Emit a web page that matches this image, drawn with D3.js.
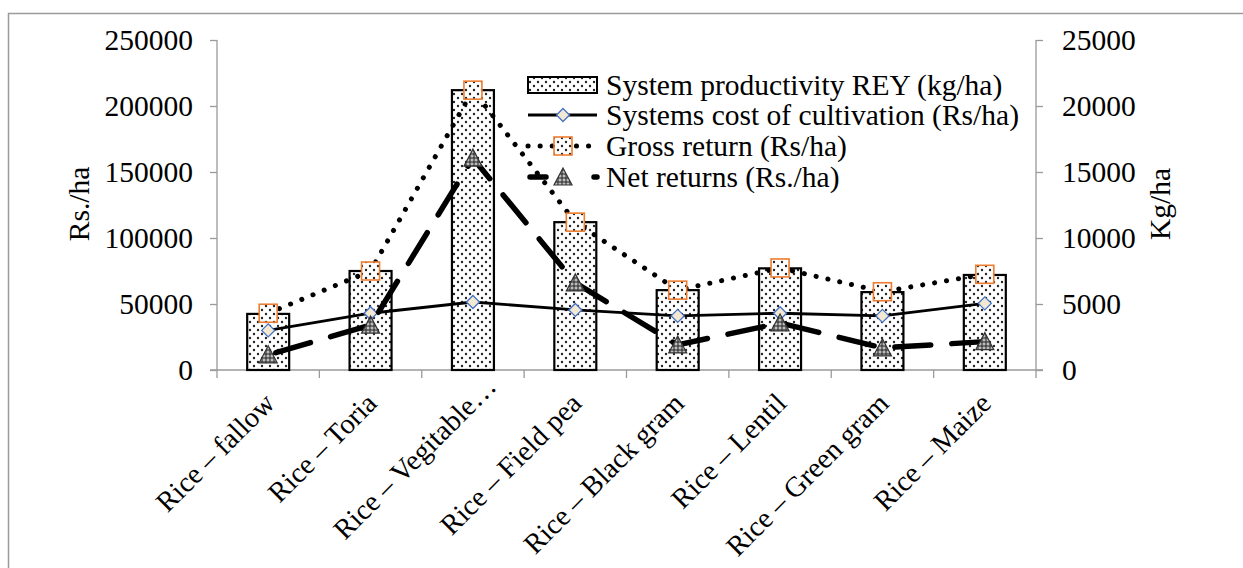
<!DOCTYPE html>
<html><head><meta charset="utf-8">
<script src="https://cdn.jsdelivr.net/npm/d3@7"></script>
<style>
html,body{margin:0;padding:0;background:#fff;}
svg{display:block;}
text{font-family:"Liberation Serif","Times New Roman",serif;fill:#000;}
</style></head>
<body>
<svg id="chart" width="1243" height="568"></svg>
<script>
const categories = ["Rice – fallow","Rice – Toria","Rice – Vegitable…","Rice – Field pea","Rice – Black gram","Rice – Lentil","Rice – Green gram","Rice – Maize"];
const productivity = [4250, 7500, 21200, 11200, 6050, 7700, 5900, 7200];   // kg/ha (right axis)
const cost = [30000, 43000, 51500, 45500, 41000, 43000, 41000, 50500];       // Rs/ha
const gross = [43000, 75000, 212000, 112000, 60500, 77300, 59300, 72500];    // Rs/ha
const net = [11500, 34000, 160500, 66000, 19000, 35600, 16800, 21500];      // Rs/ha
const leftTicks = [0, 50000, 100000, 150000, 200000, 250000];
const rightTicks = [0, 5000, 10000, 15000, 20000, 25000];
const seriesNames = ["System productivity REY (kg/ha)","Systems cost of cultivation (Rs/ha)","Gross return (Rs/ha)","Net returns (Rs./ha)"];
const leftTitle = "Rs./ha";
const rightTitle = "Kg/ha";

const svg = d3.select("#chart");
const FS = 29.5, XFS = 28.5;
const axisColor = "#9a9a9a";
const plot = {left:217, right:1036, top:40, bottom:370};

svg.append("rect").attr("width",1243).attr("height",568).attr("fill","#fff");
// outer chart border (top & left visible)
svg.append("path").attr("d","M8.5,568 V13.5 H1243").attr("fill","none").attr("stroke",axisColor).attr("stroke-width",1.5);

const defs = svg.append("defs");
const dots = defs.append("pattern").attr("id","dots").attr("patternUnits","userSpaceOnUse").attr("width",8).attr("height",8);
dots.append("rect").attr("width",8).attr("height",8).attr("fill","#fff");
dots.append("circle").attr("cx",2).attr("cy",2).attr("r",1.2).attr("fill","#222");
dots.append("circle").attr("cx",6).attr("cy",6).attr("r",1.2).attr("fill","#222");
const hatch = defs.append("pattern").attr("id","hatch").attr("patternUnits","userSpaceOnUse").attr("width",4).attr("height",4);
hatch.append("rect").attr("width",4).attr("height",4).attr("fill","#bdbdbd");
hatch.append("path").attr("d","M0,2 H4 M2,0 V4").attr("stroke","#222").attr("stroke-width",1);

const x = d3.scaleBand().domain(categories).range([plot.left, plot.right]).paddingInner(0.59).paddingOuter(0.295);
const yL = d3.scaleLinear().domain([0,250000]).range([plot.bottom, plot.top]);
const yR = d3.scaleLinear().domain([0,25000]).range([plot.bottom, plot.top]);
const cx = c => x(c) + x.bandwidth()/2;

// axes
const gL = svg.append("g").attr("transform",`translate(${plot.left},0)`)
  .call(d3.axisLeft(yL).tickValues(leftTicks).tickSize(7).tickPadding(17).tickFormat(d3.format("d")));
const gR = svg.append("g").attr("transform",`translate(${plot.right},0)`)
  .call(d3.axisRight(yR).tickValues(rightTicks).tickSize(7).tickPadding(19).tickFormat(d3.format("d")));
[gL,gR].forEach(g=>{
  g.select(".domain").attr("stroke",axisColor).attr("stroke-width",1.3).attr("d", `M0,${plot.top}V${plot.bottom}`);
  g.selectAll(".tick line").attr("stroke",axisColor).attr("stroke-width",1.3);
  g.selectAll(".tick text").attr("font-size",FS).attr("font-family",'"Liberation Serif","Times New Roman",serif').attr("fill","#000");
});
// bottom axis
const step = x.step();
const bounds = categories.map(c => cx(c) - step/2).concat([cx(categories[categories.length-1]) + step/2]);
svg.append("line").attr("x1",plot.left-7).attr("x2",plot.right+7).attr("y1",plot.bottom).attr("y2",plot.bottom).attr("stroke",axisColor).attr("stroke-width",1.3);
svg.selectAll(".xtick").data(bounds).join("line").attr("class","xtick")
  .attr("x1",d=>d).attr("x2",d=>d).attr("y1",plot.bottom).attr("y2",plot.bottom+8).attr("stroke",axisColor).attr("stroke-width",1.3);
svg.selectAll(".xlab").data(categories).join("text").attr("class","xlab")
  .attr("font-size",XFS).attr("text-anchor","end")
  .attr("transform",d=>{ const sh = d.endsWith("…") ? 24 : 0; return `translate(${cx(d)+8},405) rotate(-45) translate(${sh},0)`; })
  .text(d=>d);

// axis titles
svg.append("text").attr("font-size",FS).attr("text-anchor","middle").attr("transform",`translate(89,204) rotate(-90)`).text(leftTitle);
svg.append("text").attr("font-size",FS).attr("text-anchor","middle").attr("transform",`translate(1170,204) rotate(-90)`).text(rightTitle);

// bars
svg.selectAll(".bar").data(productivity).join("rect").attr("class","bar")
  .attr("x",(d,i)=>x(categories[i])).attr("width",x.bandwidth())
  .attr("y",d=>yR(d)).attr("height",d=>plot.bottom-yR(d))
  .attr("fill","url(#dots)").attr("stroke","#000").attr("stroke-width",2.2);

const line = d3.line().x((d,i)=>cx(categories[i])).y(d=>yL(d));
// markers
function diamond(g, X, Y){ g.append("path").attr("d",`M${X},${Y-6.5}L${X+6.5},${Y}L${X},${Y+6.5}L${X-6.5},${Y}Z`).attr("fill","#f3e9d2").attr("stroke","#4472c4").attr("stroke-width",1.3); }
function square(g, X, Y){ g.append("rect").attr("x",X-9).attr("y",Y-9).attr("width",18).attr("height",18).attr("fill","url(#dots)").attr("stroke","#ed7d31").attr("stroke-width",1.6); }
function tri(g, X, Y){ g.append("path").attr("d",`M${X},${Y-9}L${X+9},${Y+8}L${X-9},${Y+8}Z`).attr("fill","url(#hatch)").attr("stroke","#333").attr("stroke-width",1.2); }

// cost line
svg.append("path").datum(cost).attr("d",line).attr("fill","none").attr("stroke","#000").attr("stroke-width",2.8);
const gc = svg.append("g"); cost.forEach((d,i)=>diamond(gc, cx(categories[i]), yL(d)));
// gross line
svg.append("path").datum(gross).attr("d",line).attr("fill","none").attr("stroke","#000").attr("stroke-width",5)
  .attr("stroke-linecap","round").attr("stroke-dasharray","0.1 12");
const gg = svg.append("g"); gross.forEach((d,i)=>square(gg, cx(categories[i]), yL(d)));
// net line
svg.append("path").datum(net).attr("d",line).attr("fill","none").attr("stroke","#000").attr("stroke-width",5.5)
  .attr("stroke-linecap","round").attr("stroke-dasharray","36 21").attr("stroke-dashoffset",-8);
const gn = svg.append("g"); net.forEach((d,i)=>tri(gn, cx(categories[i]), yL(d)));

// legend
const lg = svg.append("g");
const lx0 = 528, lx1 = 597, lmx = 563, ltx = 606;
const rowsY = [85, 115, 146, 177];
lg.append("rect").attr("x",lx0).attr("y",rowsY[0]-8).attr("width",lx1-lx0).attr("height",16).attr("fill","url(#dots)").attr("stroke","#000").attr("stroke-width",2);
lg.append("line").attr("x1",lx0).attr("x2",lx1).attr("y1",rowsY[1]).attr("y2",rowsY[1]).attr("stroke","#000").attr("stroke-width",2.8);
diamond(lg, lmx, rowsY[1]);
lg.append("line").attr("x1",lx0).attr("x2",lx1).attr("y1",rowsY[2]).attr("y2",rowsY[2]).attr("stroke","#000").attr("stroke-width",5).attr("stroke-linecap","round").attr("stroke-dasharray","0.1 12");
square(lg, lmx, rowsY[2]);
lg.append("line").attr("x1",lx0+2).attr("x2",lx1).attr("y1",rowsY[3]).attr("y2",rowsY[3]).attr("stroke","#000").attr("stroke-width",5.5).attr("stroke-linecap","round").attr("stroke-dasharray","16 48");
tri(lg, lmx, rowsY[3]);
lg.selectAll(".lt").data(seriesNames).join("text").attr("class","lt").attr("x",ltx).attr("y",(d,i)=>rowsY[i]).attr("dy","0.35em").attr("font-size",FS).text(d=>d);
</script>
</body></html>
